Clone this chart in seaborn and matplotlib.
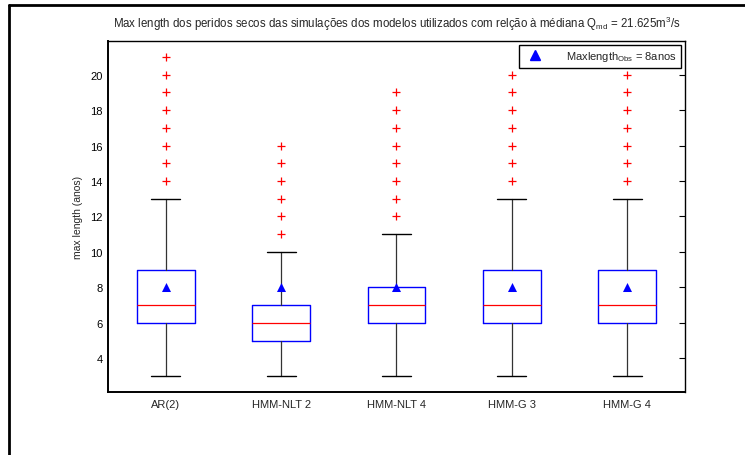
import matplotlib
matplotlib.use("Agg")
import matplotlib.pyplot as plt
import seaborn as sns
from matplotlib.lines import Line2D

# Five simulation models and their max dry-spell length statistics (years)
models = ["AR(2)", "HMM-NLT 2", "HMM-NLT 4", "HMM-G 3", "HMM-G 4"]
q1 = [6, 5, 6, 6, 6]
medians = [7, 6, 7, 7, 7]
q3 = [9, 7, 8, 9, 9]
whisker_low = [3, 3, 3, 3, 3]
whisker_high = [13, 10, 11, 13, 13]
outliers = [
    [14, 15, 16, 17, 18, 19, 20, 21],
    [11, 12, 13, 14, 15, 16],
    [12, 13, 14, 15, 16, 17, 18, 19],
    [14, 15, 16, 17, 18, 19, 20],
    [14, 15, 16, 17, 18, 19, 20],
]
observed = [8, 8, 8, 8, 8]
yticks = [4, 6, 8, 10, 12, 14, 16, 18, 20]

sns.set_style("white")
plt.rcParams["font.family"] = ["Liberation Sans", "DejaVu Sans"]
plt.rcParams["mathtext.fontset"] = "custom"
plt.rcParams["mathtext.rm"] = "Liberation Sans"
plt.rcParams["mathtext.it"] = "Liberation Sans:italic"

fig = plt.figure(figsize=(7.45, 4.56), dpi=100)
ax = fig.add_axes([108 / 745, 1 - 393 / 456, 577 / 745, 351 / 456])

stats = [
    dict(label=m, q1=a, med=b, q3=c, whislo=lo, whishi=hi, fliers=f)
    for m, a, b, c, lo, hi, f in zip(models, q1, medians, q3,
                                     whisker_low, whisker_high, outliers)
]
ax.bxp(
    stats, positions=range(len(models)), widths=0.5, capwidths=0.25,
    manage_ticks=False,
    boxprops=dict(color="blue", linewidth=1.0),
    medianprops=dict(color="red", linewidth=0.9),
    whiskerprops=dict(color="#333333", linewidth=0.9),
    capprops=dict(color="black", linewidth=1.0),
    flierprops=dict(marker="+", markeredgecolor="red", markersize=5.5,
                    markeredgewidth=0.9, linestyle="none"),
)

# Observed value drawn as triangles over each box
sns.stripplot(x=models, y=observed, marker="^", color="blue", size=6.5,
              jitter=False, ax=ax, zorder=5)

ax.set_xlim(-0.5, len(models) - 0.5)
ax.set_ylim(2.1, 21.9)
ax.set_yticks(yticks)
ax.tick_params(axis="y", direction="in", length=4, width=0.8, right=True,
               labelsize=8, colors="black", pad=4)
ax.tick_params(axis="x", length=0, labelsize=8, pad=5)
for s in ax.spines.values():
    s.set_visible(True)
    s.set_color("black")
    s.set_linewidth(1.0)
ax.spines["bottom"].set_linewidth(1.4)
ax.spines["left"].set_linewidth(1.4)

ax.set_ylabel("max length (anos)", fontsize=7.5, labelpad=5)
ax.set_xlabel("")
ax.set_title(
    r"Max length dos peridos secos das simulações dos modelos utilizados "
    r"com relção à médiana Q$_{\rm md}$ = 21.625m$^{3}$/s",
    fontsize=8.3, pad=10,
)

handle = Line2D([], [], marker="^", color="blue", linestyle="none",
                markersize=6.5)
leg = ax.legend([handle], [r"Maxlength$_{\rm Obs}$ = 8anos"], loc="upper right",
                fontsize=8, frameon=True, fancybox=False, framealpha=1,
                edgecolor="black", borderaxespad=0.35, handletextpad=1.8,
                borderpad=0.4)
leg.get_frame().set_linewidth(1.0)

# Outer frame lines along the top and left edges
fig.add_artist(Line2D([0.0125, 1.0], [0.986, 0.986], transform=fig.transFigure,
                      color="black", linewidth=2))
fig.add_artist(Line2D([0.0125, 0.0125], [0.0, 0.986], transform=fig.transFigure,
                      color="black", linewidth=2))

fig.savefig("out.png", dpi=100)
